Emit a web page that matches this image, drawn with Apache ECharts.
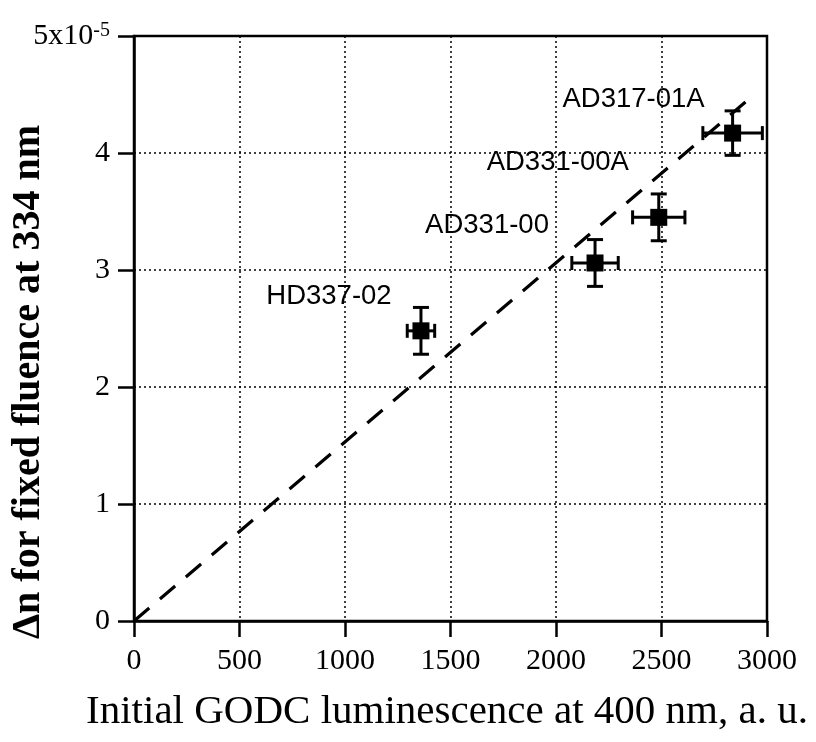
<!DOCTYPE html>
<html>
<head>
<meta charset="utf-8">
<script src="https://cdn.jsdelivr.net/npm/echarts@6/dist/echarts.min.js"></script>
<style>html,body{margin:0;padding:0;background:#fff}#c{width:816px;height:742px}</style>
</head>
<body>
<div id="c"></div>
<script>
// ---- data ----
const sampleNames = ['HD337-02', 'AD331-00', 'AD331-00A', 'AD317-01A'];
const luminescence = [1360, 2185, 2487, 2837];        // x, a.u.
const deltaN = [2.48, 3.06, 3.45, 4.17];               // y, x1e-5
const xErr = [65, 110, 124, 141];
const yErr = [0.2, 0.2, 0.2, 0.19];
const fitX = [0, 2940];
const fitY = [0, 4.5];
const xTicks = [0, 500, 1000, 1500, 2000, 2500, 3000];
const yTicks = [0, 1, 2, 3, 4, 5];

// ---- styling (not data) ----
const labelOffsets = [[-92, -34], [-108, -38], [-101, -55], [-99, -34]];
const serif = '"Liberation Serif","Times New Roman",serif';
const sans = '"Liberation Sans",Arial,sans-serif';

const points = luminescence.map((x, i) => ({
  value: [x, deltaN[i]],
  name: sampleNames[i],
  label: { offset: labelOffsets[i] }
}));
const errData = luminescence.map((x, i) => [x, deltaN[i], xErr[i], yErr[i]]);
const fitData = fitX.map((x, i) => [x, fitY[i]]);

const chart = echarts.init(document.getElementById('c'), null, { renderer: 'canvas' });
chart.setOption({
  backgroundColor: '#fff',
  animation: false,
  grid: { left: 134, top: 36, width: 633, height: 585, show: true, borderColor: '#000', borderWidth: 2.5, backgroundColor: 'transparent' },
  xAxis: {
    type: 'value', min: xTicks[0], max: xTicks[xTicks.length - 1], interval: 500,
    axisLine: { show: true, onZero: false, lineStyle: { color: '#000', width: 2.5 } },
    axisTick: { show: true, length: 16, lineStyle: { color: '#000', width: 2.5 } },
    axisLabel: { color: '#000', fontFamily: serif, fontSize: 30, margin: 25, formatter: v => String(v) },
    splitLine: { show: true, lineStyle: { color: '#000', width: 1.5, type: [2, 3] } }
  },
  yAxis: {
    type: 'value', min: yTicks[0], max: yTicks[yTicks.length - 1], interval: 1,
    axisLine: { show: true, onZero: false, lineStyle: { color: '#000', width: 2.5 } },
    axisTick: { show: true, length: 16, lineStyle: { color: '#000', width: 2.5 } },
    axisLabel: {
      color: '#000', fontFamily: serif, fontSize: 30, margin: 24,
      formatter: v => v === 5 ? '{a|5x10}{s|-5}' : String(v),
      rich: {
        a: { fontFamily: serif, fontSize: 30, color: '#000', lineHeight: 30, verticalAlign: 'bottom' },
        s: { fontFamily: serif, fontSize: 20, color: '#000', lineHeight: 20, verticalAlign: 'top', padding: [0, 0, 16, 0] }
      }
    },
    splitLine: { show: true, lineStyle: { color: '#000', width: 1.5, type: [2, 3] } }
  },
  series: [
    {
      type: 'line', data: fitData, symbol: 'none', z: 2,
      lineStyle: { color: '#000', width: 3.2, type: [20, 14] }
    },
    {
      type: 'custom', z: 3, data: errData,
      renderItem: function (params, api) {
        const x = api.value(0), y = api.value(1), ex = api.value(2), ey = api.value(3);
        const l = api.coord([x - ex, y]), r = api.coord([x + ex, y]);
        const t = api.coord([x, y + ey]), b = api.coord([x, y - ey]);
        const st = { stroke: '#000', lineWidth: 3 };
        const cw = 8, ch = 7;
        return {
          type: 'group',
          children: [
            { type: 'line', shape: { x1: l[0], y1: l[1], x2: r[0], y2: r[1] }, style: st },
            { type: 'line', shape: { x1: l[0], y1: l[1] - ch, x2: l[0], y2: l[1] + ch }, style: st },
            { type: 'line', shape: { x1: r[0], y1: r[1] - ch, x2: r[0], y2: r[1] + ch }, style: st },
            { type: 'line', shape: { x1: t[0], y1: t[1], x2: b[0], y2: b[1] }, style: st },
            { type: 'line', shape: { x1: t[0] - cw, y1: t[1], x2: t[0] + cw, y2: t[1] }, style: st },
            { type: 'line', shape: { x1: b[0] - cw, y1: b[1], x2: b[0] + cw, y2: b[1] }, style: st }
          ]
        };
      }
    },
    {
      type: 'scatter', z: 4, data: points, symbol: 'rect', symbolSize: 17,
      itemStyle: { color: '#000', opacity: 1 },
      label: {
        show: true, position: 'inside', formatter: p => p.name,
        color: '#000', fontFamily: sans, fontSize: 27.5, align: 'center', verticalAlign: 'middle'
      }
    }
  ],
  graphic: [
    {
      type: 'text', x: 447, y: 712,
      style: { text: 'Initial GODC luminescence at 400 nm, a. u.', font: '41px ' + serif, fill: '#000', textAlign: 'center', textVerticalAlign: 'middle' }
    },
    {
      type: 'text', x: 29, y: 382, rotation: Math.PI / 2,
      style: { text: 'Δn for fixed fluence at 334 nm', font: 'bold 40px ' + serif, fill: '#000', textAlign: 'center', textVerticalAlign: 'middle' }
    }
  ]
});
</script>
</body>
</html>
